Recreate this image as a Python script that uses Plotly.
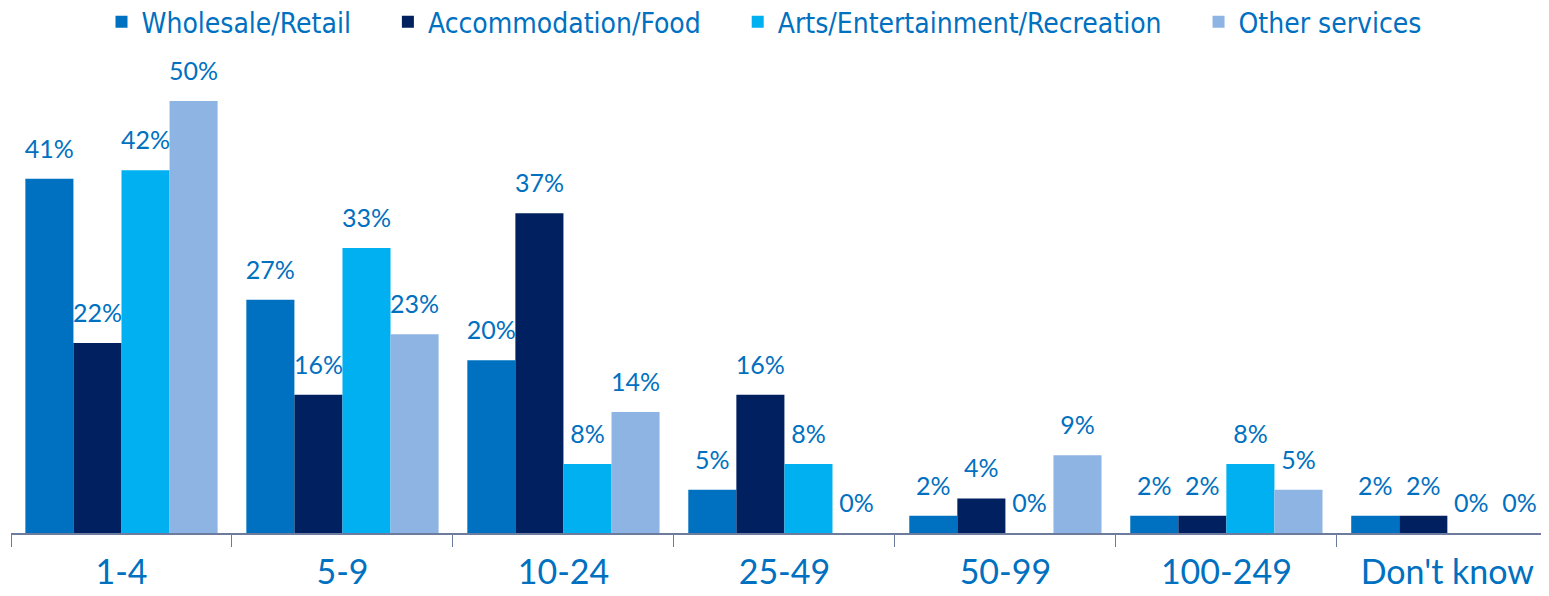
import plotly.graph_objects as go

sizes = ["1-4", "5-9", "10-24", "25-49", "50-99", "100-249", "Don't know"]
series_names = [
    "Wholesale/Retail",
    "Accommodation/Food",
    "Arts/Entertainment/Recreation",
    "Other services",
]
wholesale = [41, 27, 20, 5, 2, 2, 2]
accommodation = [22, 16, 37, 16, 4, 2, 2]
arts = [42, 33, 8, 8, 0, 8, 0]
other = [50, 23, 14, 0, 9, 5, 0]

_COLORS = ["#0070C0", "#002060", "#00B0F0", "#8EB4E3"]
_TEXT = "#0070C0"
_PAD = "\u00a0" * 4
_GAP = 0.13

fig = go.Figure()
for name, vals, col in zip(series_names, [wholesale, accommodation, arts, other], _COLORS):
    fig.add_trace(go.Bar(
        x=sizes,
        y=vals,
        name=name + _PAD,
        marker=dict(color=col, line=dict(width=0)),
        hoverinfo="skip",
    ))

# value labels, grouped the same way as the bars, pushed up by an invisible marker
for vals in [wholesale, accommodation, arts, other]:
    fig.add_trace(go.Scatter(
        x=sizes,
        y=vals,
        mode="markers+text",
        marker=dict(size=22, color="rgba(0,0,0,0)"),
        text=[f"{v}%" for v in vals],
        textposition="top center",
        textfont=dict(family="Lato, sans-serif", size=25, color=_TEXT),
        showlegend=False,
        cliponaxis=False,
        hoverinfo="skip",
    ))

# page body has an 8px margin, so the figure is shrunk by that much
fig.update_layout(
    barmode="group",
    bargap=_GAP,
    bargroupgap=0,
    scattermode="group",
    scattergap=_GAP,
    width=1541,
    height=588,
    margin=dict(l=3, r=0, t=52, b=63),
    paper_bgcolor="white",
    plot_bgcolor="white",
    legend=dict(
        orientation="h",
        x=0.5, xanchor="center",
        y=0.976, yanchor="middle",
        yref="container",
        font=dict(family="DejaVu Sans Condensed, Liberation Sans, sans-serif", size=28, color=_TEXT),
        itemclick=False,
    ),
    xaxis=dict(
        range=[-0.5, 6.46],
        automargin=False,
        showline=True,
        linecolor="#6D7C9C",
        linewidth=1.5,
        ticks="outside",
        tickson="boundaries",
        ticklen=12,
        tickcolor="#6D7C9C",
        ticklabelstandoff=8,
        tickfont=dict(family="Lato, sans-serif", size=34, color=_TEXT),
        showgrid=False,
    ),
    yaxis=dict(
        range=[0, 54.75],
        visible=False,
        showgrid=False,
    ),
)

fig.write_html("out.html")
